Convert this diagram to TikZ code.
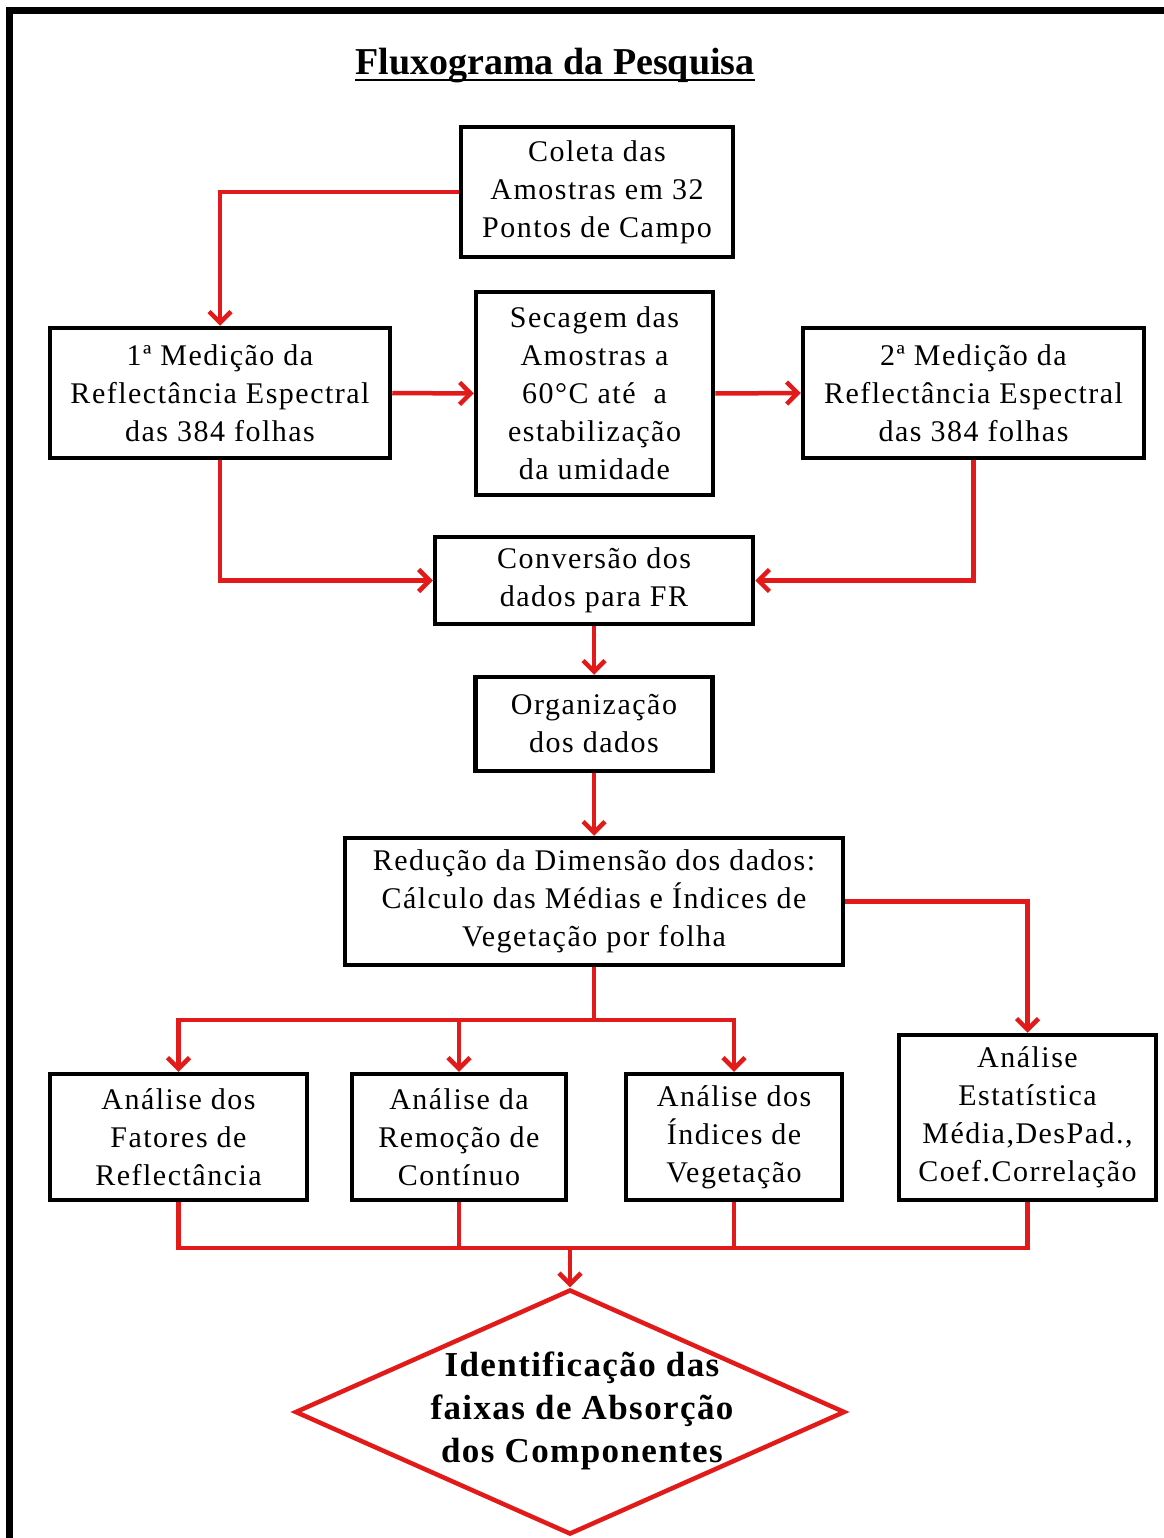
\documentclass[tikz,border=0pt]{standalone}
\usepackage{fontspec}
\setmainfont{Liberation Serif}
\usetikzlibrary{arrows.meta,shapes.geometric}
\definecolor{fred}{RGB}{226,26,26}
\begin{document}
\begin{tikzpicture}[x=1pt,y=-1pt,
  box/.style={draw=black, line width=4.5pt, inner sep=0pt, align=center,
    font=\fontsize{30}{38}\selectfont\addfontfeature{LetterSpace=5}},
  conn/.style={draw=fred, line width=4.5pt},
  arr/.style={conn, -{Straight Barb[length=11pt,width=22pt]}}]
\useasboundingbox (0,0) rectangle (1163,1538);
\draw[line width=7pt] (9.5,1560) -- (9.5,10.5) -- (1170,10.5);
% title
\node[inner sep=0pt, anchor=base, font=\fontsize{38}{40}\selectfont\bfseries] (title) at (555,75) {Fluxograma da Pesquisa};
\draw[line width=2.5pt] ([yshift=-5pt]title.base west) -- ([yshift=-5pt]title.base east);
% boxes
\node[box, minimum width=272pt, minimum height=130pt] (b1) at (597,192) {Coleta das\\Amostras em 32\\Pontos de Campo};
\node[box, minimum width=340pt, minimum height=130pt] (b2) at (220,393) {1ª Medição da\\Reflectância Espectral\\das 384 folhas};
\node[box, minimum width=237pt, minimum height=203pt] (b3) at (594.5,393.5) {Secagem das\\Amostras a\\60°C até \ a\\estabilização\\da umidade};
\node[box, minimum width=341pt, minimum height=130pt] (b4) at (973.5,393) {2ª Medição da\\Reflectância Espectral\\das 384 folhas};
\node[box, minimum width=318pt, minimum height=87pt] (b5) at (594,580.5) {Conversão dos\\dados para FR};
\node[box, minimum width=237pt, minimum height=94pt] (b6) at (594,724) {Organização\\dos dados};
\node[box, minimum width=498pt, minimum height=127pt] (b7) at (594,901.5) {Redução da Dimensão dos dados:\\Cálculo das Médias e Índices de\\Vegetação por folha};
\node[box, minimum width=257pt, minimum height=126pt] (b8) at (178.5,1137) {Análise dos\\Fatores de\\Reflectância};
\node[box, minimum width=214pt, minimum height=126pt] (b9) at (459,1137) {Análise da\\Remoção de\\Contínuo};
\node[box, minimum width=216pt, minimum height=126pt] (b10) at (734,1137) {Análise dos\\Índices de\\Vegetação};
\node[box, minimum width=257pt, minimum height=165pt] (b11) at (1027.5,1117.5) {Análise\\Estatística\\Média,DesPad.,\\Coef.Correlação};
% diamond
\node[diamond, draw=fred, line width=4.5pt, inner sep=0pt, minimum width=550pt, minimum height=245pt] (dia) at (570,1412) {};
\node[inner sep=0pt, align=center, font=\fontsize{35}{43}\selectfont\bfseries\addfontfeature{LetterSpace=4}] (diatext) at (582,1411) {Identificação das\\faixas de Absorção\\dos Componentes};
% junctions
\coordinate (j1) at (594,1020);
\coordinate (j2) at (570,1248);
% connectors
\draw[arr] (b1.west) -| (b2.north);
\draw[arr] (b2.east) -- (b3.west);
\draw[arr] (b3.east) -- (b4.west);
\draw[arr] (b2.south) |- (b5.west);
\draw[arr] (b4.south) |- (b5.east);
\draw[arr] (b5.south) -- (b6.north);
\draw[arr] (b6.south) -- (b7.north);
\draw[conn] (b7.south) -- (j1);
\draw[arr] (j1) -| (b8.north);
\draw[arr] (j1) -| (b9.north);
\draw[arr] (j1) -| (b10.north);
\draw[arr] (b7.east) -| (b11.north);
\draw[conn] (b8.south) |- (j2);
\draw[conn] (b11.south) |- (j2);
\draw[conn] (b9.south) -- (b9.south |- j2);
\draw[conn] (b10.south) -- (b10.south |- j2);
\draw[arr] (j2) -- (dia.north);
\end{tikzpicture}
\end{document}
